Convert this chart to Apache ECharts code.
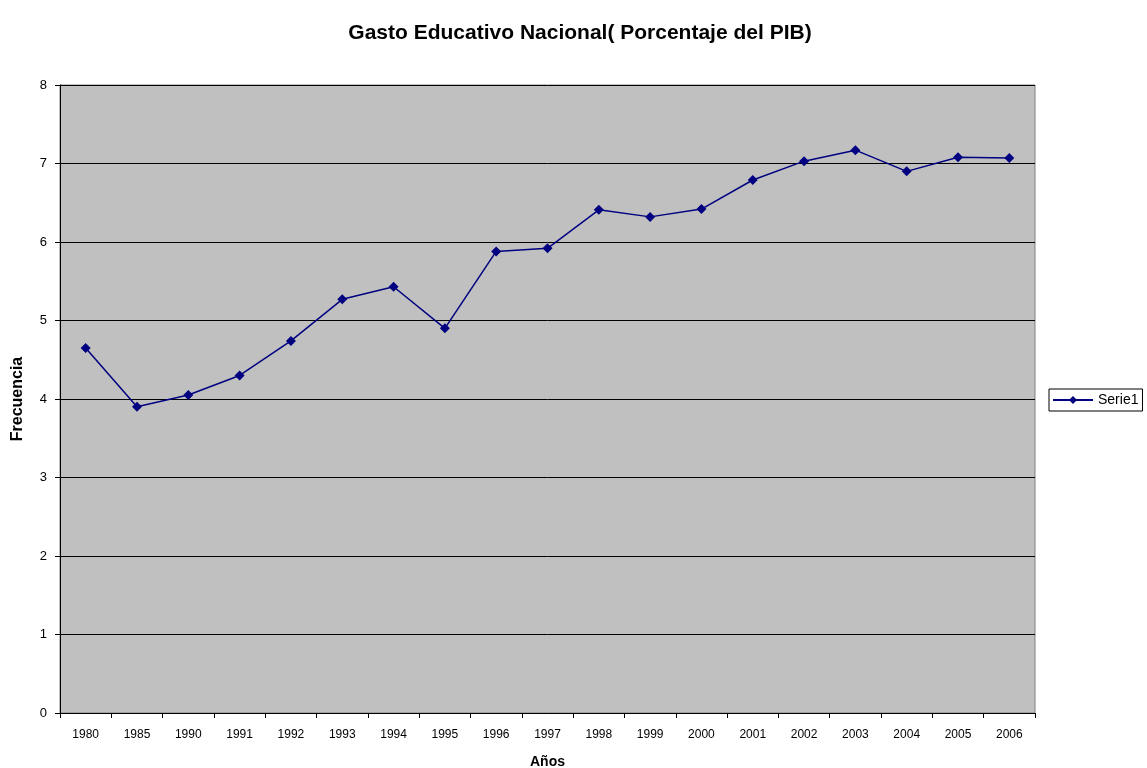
<!DOCTYPE html>
<html>
<head>
<meta charset="utf-8">
<script src="https://cdn.jsdelivr.net/npm/echarts@6/dist/echarts.min.js"></script>
<style>
html,body{margin:0;padding:0;background:#fff;}
#chart{width:1147px;height:768px;}
</style>
</head>
<body>
<div id="chart"></div>
<script>
const years = ['1980','1985','1990','1991','1992','1993','1994','1995','1996','1997','1998','1999','2000','2001','2002','2003','2004','2005','2006'];
const serie1 = [4.65,3.9,4.05,4.3,4.74,5.27,5.43,4.9,5.88,5.92,6.41,6.32,6.42,6.79,7.03,7.17,6.9,7.08,7.07];
const yTicks = [0,1,2,3,4,5,6,7,8];

const font = '"Liberation Sans", Arial, sans-serif';
const chart = echarts.init(document.getElementById('chart'));
chart.setOption({
  animation: false,
  textStyle: {fontFamily: font},
  title: {
    text: 'Gasto Educativo Nacional( Porcentaje del PIB)',
    left: 575, top: 18, textAlign: 'center',
    textStyle: {fontFamily: font, fontSize: 21, fontWeight: 'bold', color: '#000'}
  },
  grid: {
    left: 60, right: 112, top: 85, bottom: 55,
    outerBoundsMode: 'none',
    containLabel: false,
    show: true, backgroundColor: '#c0c0c0', borderColor: '#808080', borderWidth: 1
  },
  legend: {
    data: ['Serie1'],
    left: 1049, top: 389,
    orient: 'vertical',
    borderColor: '#000', borderWidth: 1, borderRadius: 0,
    padding: [4, 4, 4, 3],
    itemWidth: 40, itemHeight: 10, itemGap: 4,
    textStyle: {fontFamily: font, fontSize: 14, color: '#000'}
  },
  xAxis: {
    type: 'category',
    data: years,
    boundaryGap: true,
    name: 'Años', nameLocation: 'middle', nameGap: 42,
    nameTextStyle: {fontFamily: font, fontSize: 14, fontWeight: 'bold', color: '#000'},
    axisLine: {lineStyle: {color: '#000', width: 1}},
    axisTick: {show: true, length: 5, lineStyle: {color: '#000'}},
    axisLabel: {fontFamily: font, fontSize: 12, color: '#000', margin: 16, interval: 0},
    splitLine: {show: false}
  },
  yAxis: {
    type: 'value',
    min: yTicks[0], max: yTicks[yTicks.length-1], interval: 1,
    name: 'Frecuencia', nameLocation: 'middle', nameGap: 34, nameRotate: 90,
    nameTextStyle: {fontFamily: font, fontSize: 16, fontWeight: 'bold', color: '#000'},
    axisLine: {show: true, lineStyle: {color: '#000', width: 1}},
    axisTick: {show: true, length: 5, lineStyle: {color: '#000'}},
    axisLabel: {fontFamily: font, fontSize: 13, color: '#000', margin: 13},
    splitLine: {show: true, lineStyle: {color: '#000', width: 1}}
  },
  series: [{
    name: 'Serie1',
    type: 'line',
    data: serie1,
    symbol: 'diamond',
    symbolSize: 10,
    lineStyle: {color: '#000080', width: 1.5},
    itemStyle: {color: '#000080'}
  }]
});
</script>
</body>
</html>
